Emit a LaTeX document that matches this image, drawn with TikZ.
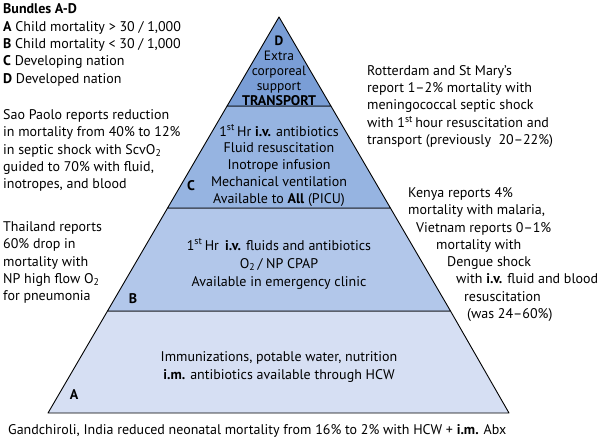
\documentclass[tikz,border=0pt]{standalone}
\usepackage{fontspec}
\setmainfont{PT Sans}
\definecolor{levelD}{RGB}{122,158,214}
\definecolor{levelC}{RGB}{150,180,225}
\definecolor{levelB}{RGB}{178,199,234}
\definecolor{levelA}{RGB}{214,223,243}
\tikzset{
  level/.style={draw=black, line width=0.9pt, line join=round},
  note/.style={inner sep=0pt, align=left, font=\fontsize{14}{17.3}\selectfont},
  inside/.style={inner sep=0pt, align=center, font=\fontsize{14}{16.8}\selectfont},
  tag/.style={inner sep=0pt, font=\fontsize{14}{16}\selectfont\bfseries}
}
\begin{document}
\begin{tikzpicture}[x=1pt, y=-1pt]

    \useasboundingbox (0,0) rectangle (600,442);

    % Corners of the pyramid
    \coordinate (apex) at (279, 17);     % Top
    \coordinate (BL) at (48, 413);       % Bottom left
    \coordinate (BR) at (509, 413);      % Bottom right

    % Points where the level lines meet the sides
    \coordinate (L1) at (107.5, 311);    % A/B left
    \coordinate (R1) at (450.5, 311);    % A/B right
    \coordinate (L2) at (167.6, 208);    % B/C left
    \coordinate (R2) at (390.4, 208);    % B/C right
    \coordinate (L3) at (227.1, 106);    % C/D left
    \coordinate (R3) at (330.9, 106);    % C/D right

    % Fill the four levels
    \filldraw[level, fill=levelA] (BL) -- (BR) -- (R1) -- (L1) -- cycle;
    \filldraw[level, fill=levelB] (L1) -- (R1) -- (R2) -- (L2) -- cycle;
    \filldraw[level, fill=levelC] (L2) -- (R2) -- (R3) -- (L3) -- cycle;
    \filldraw[level, fill=levelD] (L3) -- (R3) -- (apex) -- cycle;

    % Bundle letters on the levels
    \node[tag] (tagA) at (74, 395) {A};
    \node[tag] (tagB) at (133, 299) {B};
    \node[tag] (tagC) at (191, 186) {C};

    % Text inside the levels
    \node[inside, font=\fontsize{13.5}{15}\selectfont] (textD) at (279, 70.5)
      {{\bfseries D}\\Extra\\corporeal\\support\\{\fontsize{14}{14}\selectfont\bfseries TRANSPORT}};
    \node[inside] (textC) at (279, 165.5)
      {1\textsuperscript{st}\,Hr \textbf{i.v.} antibiotics\\Fluid resuscitation\\Inotrope infusion\\Mechanical ventilation\\Available to \textbf{All} (PICU)};
    \node[inside, font=\fontsize{14}{18}\selectfont] (textB) at (279, 264)
      {1\textsuperscript{st}\,Hr\, \textbf{i.v.} fluids and antibiotics\\O\textsubscript{2}\,/ NP CPAP\\Available in emergency clinic};
    \node[inside, font=\fontsize{14}{18}\selectfont] (textA) at (279, 367)
      {Immunizations, potable water, nutrition\\\textbf{i.m.} antibiotics available through HCW};

    % Legend
    \node[note, anchor=west] (legend) at (3, 45)
      {\textbf{Bundles A-D}\\\textbf{A} Child mortality > 30 / 1,000\\\textbf{B} Child mortality < 30 / 1,000\\\textbf{C} Developing nation\\\textbf{D} Developed nation};

    % Reports beside the pyramid
    \node[note, anchor=west] (rotterdam) at (367, 106.5)
      {Rotterdam and St Mary’s\\report 1–2\% mortality with\\meningococcal septic shock\\with 1\textsuperscript{st}\,hour resuscitation and\\transport (previously\ \ 20–22\%)};
    \node[note, anchor=west] (saopaolo) at (3, 150.5)
      {Sao Paolo reports reduction\\in mortality from 40\% to 12\%\\in septic shock with ScvO\textsubscript{2}\\guided to 70\% with fluid,\\inotropes, and blood};
    \node[note, anchor=west] (thailand) at (3, 262.5)
      {Thailand reports\\60\% drop in\\mortality with\\NP high flow O\textsubscript{2}\\for pneumonia};
    \node[note, anchor=west] (kenya) at (408, 254.5)
      {Kenya reports 4\%\\mortality with malaria,\\\hspace*{8pt}Vietnam reports 0–1\%\\\hspace*{28pt}mortality with\\\hspace*{39pt}Dengue shock\\\hspace*{48pt}with \textbf{i.v.} fluid and blood\\\hspace*{56pt}resuscitation\\\hspace*{59pt}(was 24–60\%)};
    \node[note, anchor=west] (gandchiroli) at (8, 431)
      {Gandchiroli, India reduced neonatal mortality from 16\% to 2\% with HCW + \textbf{i.m.} Abx};

\end{tikzpicture}
\end{document}
